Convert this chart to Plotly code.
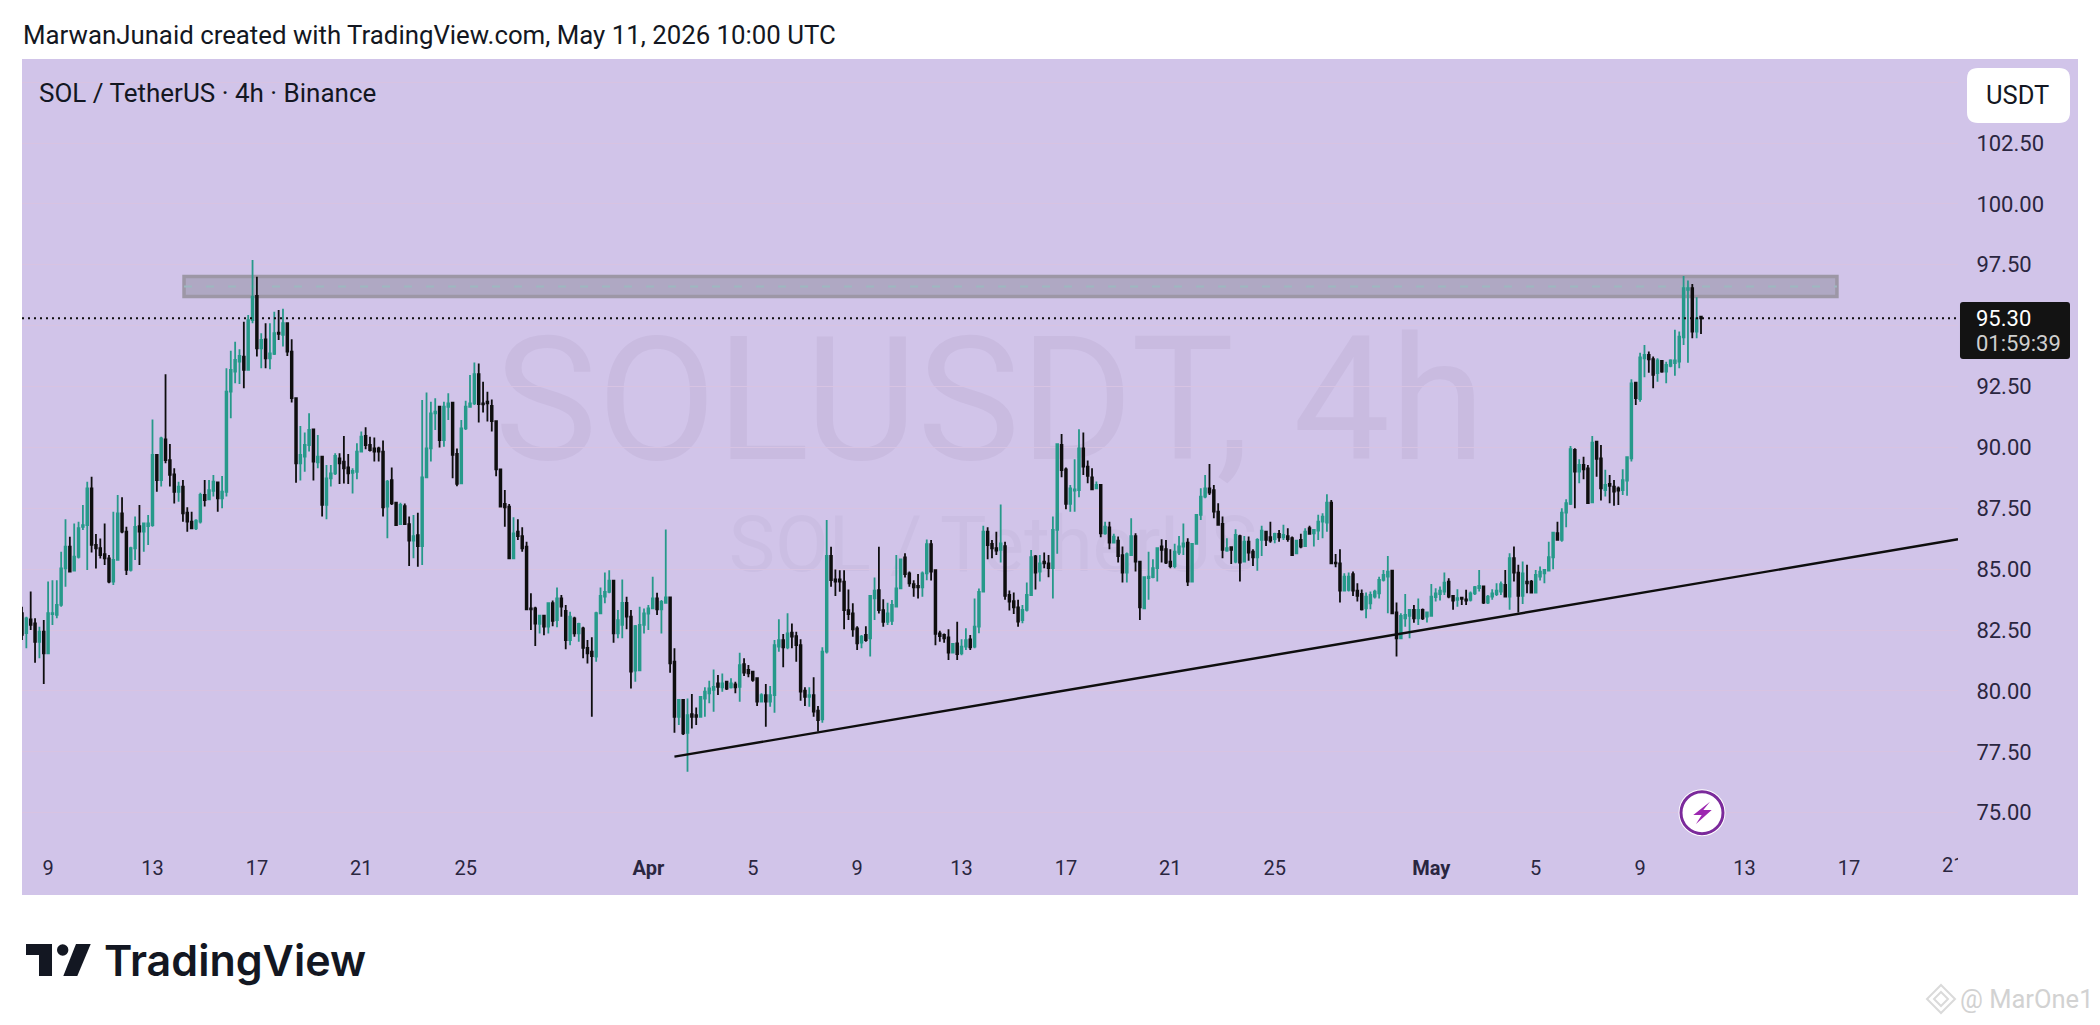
import pandas as pd
import plotly.graph_objects as go

opens = [
    83.19,82.37,82.94,82.77,82.02,82.43,81.54,83.16,83.12,83.53,
    85.03,85.92,84.94,85.51,86.74,86.81,88.32,86.00,85.86,85.62,
    85.44,84.49,85.38,87.29,86.54,84.97,85.86,86.77,86.54,86.77,
    86.81,89.69,88.66,90.33,89.48,88.89,88.18,88.39,87.32,86.95,
    86.68,86.95,88.05,87.87,88.22,88.56,87.91,88.18,92.29,93.11,
    93.52,93.73,93.18,95.23,96.22,94.07,94.44,93.66,93.84,94.71,
    94.62,95.10,93.93,92.02,89.35,89.62,90.10,90.74,89.39,89.62,
    87.64,88.73,88.93,89.55,89.42,89.18,88.96,89.00,89.83,90.47,
    90.10,89.96,89.96,89.83,87.57,88.66,87.73,86.85,87.59,86.85,
    86.17,86.40,85.95,88.77,89.96,91.40,91.67,90.30,91.67,91.84,
    89.73,88.52,90.78,91.67,91.81,93.01,91.81,91.88,91.70,91.08,
    89.10,87.68,87.57,85.44,86.54,86.36,85.92,83.39,83.39,82.75,
    83.09,82.64,83.60,82.91,83.80,83.29,82.09,82.98,82.36,82.57,
    81.77,81.61,81.41,83.19,83.87,84.07,84.53,82.36,82.71,83.62,
    83.05,80.83,80.85,82.71,83.18,83.39,83.80,83.35,83.62,83.84,
    81.20,78.94,79.63,78.28,79.05,79.01,78.94,79.69,79.90,80.04,
    80.31,80.15,80.38,80.15,80.27,80.17,81.10,80.86,80.79,80.52,
    79.56,79.83,79.56,79.83,81.82,82.09,81.79,82.39,82.25,81.88,
    80.01,79.76,79.83,79.19,78.83,81.61,85.54,84.58,84.58,84.49,
    83.32,83.18,82.57,81.98,82.30,82.16,83.80,84.14,83.32,82.84,
    82.88,83.46,84.21,85.48,84.83,84.39,84.31,84.25,84.83,86.03,
    84.96,82.36,82.30,82.20,81.57,81.95,81.54,81.82,82.12,81.82,
    82.64,84.08,86.54,86.04,85.86,85.79,85.95,83.94,83.69,83.43,
    82.91,83.33,83.94,85.52,84.90,85.31,85.24,85.04,86.61,90.10,
    89.10,87.68,88.23,88.25,89.96,89.21,88.77,88.32,88.46,86.47,
    86.72,86.09,86.17,85.58,84.86,85.58,86.36,85.31,83.39,84.63,
    84.67,85.04,85.93,85.82,85.31,85.13,85.68,85.93,86.09,84.49,
    86.04,87.23,87.98,88.32,88.25,87.36,86.86,85.76,85.90,85.31,
    86.36,85.31,86.13,85.72,85.49,86.20,86.54,86.31,86.23,86.45,
    86.31,86.36,86.27,85.65,86.20,85.95,86.68,86.47,86.58,86.95,
    86.91,87.73,85.27,85.24,84.12,84.15,84.80,84.12,83.98,83.39,
    83.60,83.87,84.01,84.56,84.69,84.94,83.22,82.16,82.98,83.08,
    83.33,82.98,83.33,83.05,83.08,83.85,83.98,84.08,84.49,83.90,
    83.74,83.83,83.76,83.74,84.01,84.22,84.29,83.63,83.87,83.98,
    84.08,84.35,83.87,85.45,84.86,83.90,84.49,84.49,84.04,84.70,
    84.83,84.94,85.49,86.48,86.20,87.32,87.68,89.90,89.01,89.28,
    89.14,87.74,90.24,89.55,88.25,88.50,88.39,88.32,88.25,88.64,
    89.55,92.66,91.98,93.66,93.80,93.62,93.05,93.55,93.11,93.35,
    93.46,93.52,94.52,96.47,96.54,94.76,95.37,
]
highs = [
    83.46,83.05,84.08,82.98,82.64,82.91,84.49,84.55,84.55,85.72,
    87.05,86.33,86.88,86.95,87.64,88.59,88.80,86.44,86.26,86.88,
    85.58,87.36,88.05,87.95,86.74,85.92,87.16,87.64,86.88,87.22,
    91.15,89.69,90.44,93.00,90.14,89.14,88.59,88.66,87.54,87.36,
    87.05,88.14,88.66,88.66,88.87,88.59,88.83,93.25,93.97,94.34,
    94.03,95.16,95.44,97.70,97.01,94.69,95.10,95.10,95.57,95.64,
    95.69,95.12,94.44,92.02,90.88,90.61,91.40,90.74,90.51,89.62,
    89.28,89.28,89.76,89.76,90.47,89.73,89.14,90.17,90.65,90.83,
    90.44,90.41,90.03,90.28,88.66,89.18,87.73,87.73,87.70,87.16,
    87.22,87.32,91.95,92.25,91.88,92.02,91.70,91.88,92.22,91.84,
    89.96,91.13,91.92,92.97,93.49,93.45,92.70,92.29,91.97,91.08,
    89.10,88.25,87.68,87.13,87.05,86.72,86.13,84.01,83.46,83.12,
    83.12,83.62,83.71,84.25,83.94,83.53,83.25,83.05,82.80,82.64,
    82.09,82.20,83.25,84.25,84.86,84.96,84.55,83.32,84.58,83.87,
    83.32,82.71,83.46,83.39,83.53,84.69,84.03,83.73,86.63,83.84,
    81.75,79.65,79.65,79.69,79.87,79.32,79.76,80.15,80.42,80.88,
    80.65,80.72,80.42,80.52,80.38,81.57,81.34,81.06,80.83,80.56,
    79.90,80.28,80.20,82.09,82.94,82.34,83.19,82.77,82.43,82.12,
    80.15,80.15,80.56,79.38,81.79,87.02,85.92,84.99,84.96,84.96,
    84.17,83.60,82.66,82.30,82.66,83.90,84.66,85.92,83.76,83.62,
    83.73,85.58,85.44,85.65,84.90,84.55,84.80,84.90,86.22,86.20,
    84.96,82.47,82.36,82.53,81.95,82.84,82.12,82.57,82.30,83.80,
    84.21,86.78,86.72,86.20,86.54,87.66,86.13,84.12,84.04,83.74,
    83.53,84.45,85.79,85.58,85.58,85.68,85.58,87.16,90.17,90.55,
    89.18,88.46,89.51,90.75,90.61,89.46,89.14,88.60,88.46,86.95,
    86.95,86.45,86.34,85.93,85.68,87.09,86.47,85.34,84.69,85.72,
    85.41,85.86,86.23,86.20,85.82,86.04,86.36,86.88,86.27,86.06,
    87.23,88.32,88.87,89.32,88.46,87.71,87.16,86.27,85.93,86.64,
    86.41,86.36,86.34,85.82,86.27,86.78,86.57,86.95,86.50,86.61,
    86.82,86.68,86.34,86.17,86.45,86.68,86.78,86.61,87.23,87.30,
    88.08,87.84,85.62,85.82,84.83,84.86,84.90,84.42,84.17,84.04,
    84.08,84.15,84.69,84.97,85.54,84.94,83.63,83.19,83.98,83.33,
    83.53,83.80,83.39,83.26,84.39,84.22,84.29,84.86,84.63,83.94,
    84.18,83.85,84.15,84.08,84.31,84.97,84.31,83.94,84.18,84.42,
    84.49,84.97,85.65,85.93,85.18,85.31,85.18,84.56,84.97,85.11,
    84.97,86.13,86.54,86.95,87.50,87.87,90.06,89.97,89.51,89.62,
    89.28,90.47,90.24,90.10,89.08,88.87,88.66,88.39,89.10,89.62,
    92.80,92.70,93.89,94.21,93.94,93.73,93.66,93.59,93.52,93.62,
    94.83,94.76,97.04,96.85,96.71,96.17,95.37,
]
lows = [
    82.09,81.75,82.50,81.16,81.34,80.28,81.54,82.71,82.98,83.46,
    84.28,84.90,84.90,85.44,86.61,84.97,85.68,85.03,85.44,85.17,
    84.42,84.35,85.38,86.47,84.76,84.90,85.38,85.17,85.72,85.99,
    86.74,88.18,88.39,89.35,88.39,87.70,87.77,86.95,86.54,86.68,
    86.61,86.88,87.57,87.84,87.98,87.36,87.50,87.98,91.20,92.63,
    92.60,92.43,93.18,95.10,93.73,93.25,93.25,93.21,93.80,94.41,
    94.14,93.75,91.84,88.55,88.64,89.00,89.83,88.64,89.14,87.16,
    87.05,88.39,88.87,88.50,88.52,88.50,88.11,88.69,89.83,89.92,
    89.83,89.42,89.42,87.16,86.27,87.64,86.81,86.81,86.81,85.13,
    85.45,85.10,85.17,88.73,89.42,90.72,90.00,90.03,91.13,88.73,
    88.41,88.50,90.72,91.67,91.74,91.02,91.43,91.06,90.65,88.82,
    87.54,86.74,85.44,85.44,86.20,85.72,83.35,82.50,81.84,82.36,
    82.29,82.36,82.66,82.61,83.05,81.71,81.88,82.23,82.02,81.34,
    81.13,78.94,81.20,83.19,83.60,84.01,81.98,82.16,82.16,82.53,
    80.10,80.38,80.85,82.36,82.50,83.39,83.12,82.36,83.60,80.75,
    78.28,78.60,78.19,76.68,78.46,78.60,78.91,78.94,79.49,79.15,
    79.83,79.97,80.04,80.10,79.90,79.56,80.61,80.56,80.38,79.38,
    79.52,78.53,79.35,79.10,81.61,80.97,81.71,81.75,81.20,79.60,
    79.38,79.35,78.94,78.33,78.69,81.54,84.28,83.90,84.07,82.53,
    82.91,82.23,81.68,81.75,82.02,81.41,82.91,83.18,82.64,82.71,
    82.71,83.46,84.21,84.66,84.28,83.87,83.80,83.87,84.55,84.53,
    81.88,82.02,81.98,81.27,81.54,81.27,81.47,81.68,81.68,81.75,
    82.37,84.08,85.41,85.45,85.58,85.27,83.74,83.30,83.16,82.64,
    82.78,83.26,83.94,84.17,84.49,85.04,84.67,83.80,85.63,88.77,
    87.46,87.36,87.36,87.95,88.87,88.53,88.25,88.28,86.31,86.41,
    85.82,86.06,85.27,84.45,84.45,85.58,84.90,82.91,83.35,83.74,
    84.63,84.49,85.27,85.21,85.04,85.04,85.58,85.58,84.31,84.45,
    86.04,87.02,87.91,88.05,87.09,86.82,85.45,85.72,85.21,85.24,
    84.49,85.27,85.35,85.13,84.94,85.54,85.95,86.09,86.06,86.13,
    86.20,86.13,85.54,85.62,85.86,85.93,86.41,85.93,86.20,86.27,
    86.54,85.24,85.08,83.63,84.08,84.08,83.90,83.67,83.30,82.98,
    83.35,83.80,83.80,84.49,83.19,83.19,81.41,82.16,82.64,82.16,
    82.80,82.71,82.91,82.81,83.05,83.67,83.71,83.94,83.81,83.33,
    83.46,83.53,83.53,83.67,83.94,84.08,83.57,83.57,83.74,83.90,
    83.94,83.87,83.33,84.49,83.22,83.57,84.01,84.01,84.01,84.53,
    84.42,84.90,85.00,86.17,86.13,86.72,87.64,87.50,88.53,88.69,
    87.68,87.74,88.80,87.82,87.98,87.71,87.60,87.64,88.05,88.02,
    89.42,91.74,91.88,92.88,93.07,92.43,92.70,93.07,92.63,93.29,
    92.94,93.25,94.21,93.48,94.48,94.48,94.66,
]
closes = [
    82.30,82.98,82.71,82.02,82.43,81.54,83.19,83.19,83.53,85.03,
    85.92,84.90,85.51,86.68,86.81,88.32,86.00,85.86,85.58,85.44,
    84.49,85.38,87.29,86.54,84.97,85.86,86.74,86.54,86.88,86.88,
    89.69,88.66,90.37,89.48,88.87,88.18,88.39,87.29,86.95,86.68,
    86.99,88.05,87.84,88.25,88.59,87.91,88.18,92.29,93.18,93.59,
    93.76,93.18,95.23,96.19,94.07,94.41,93.66,93.86,94.69,94.66,
    95.10,93.93,92.02,89.35,89.69,90.10,90.72,89.42,89.62,87.64,
    88.73,88.93,89.65,89.35,89.14,88.93,89.04,89.83,90.44,90.10,
    89.89,89.83,89.83,87.54,88.59,87.70,86.81,87.64,86.85,86.17,
    86.36,85.95,88.77,89.96,91.40,91.47,90.30,91.67,91.81,89.69,
    88.50,90.78,91.67,91.81,93.01,91.78,91.77,91.81,91.08,89.10,
    87.57,87.54,85.44,86.47,86.36,85.85,83.35,83.35,82.77,83.09,
    82.64,83.60,82.88,83.80,83.46,82.09,83.05,82.36,82.75,81.77,
    81.54,81.43,83.19,83.90,84.07,84.53,82.36,82.91,83.62,83.05,
    80.79,82.66,82.71,83.18,83.39,83.80,83.35,83.66,83.84,81.13,
    78.94,79.63,78.26,79.01,78.94,78.94,79.76,79.97,80.10,80.17,
    80.17,80.31,80.10,80.31,80.15,81.06,80.75,80.72,80.45,79.56,
    79.83,79.56,79.83,81.88,82.09,81.79,82.36,82.23,81.88,79.97,
    79.76,79.83,79.15,78.80,81.61,85.54,84.55,84.49,84.49,83.32,
    83.16,82.53,81.95,82.23,82.09,83.90,84.12,83.32,82.84,83.18,
    83.53,84.21,85.40,84.80,84.42,84.25,84.25,84.83,86.03,84.90,
    82.34,82.25,82.16,81.57,81.93,81.51,81.82,82.09,81.79,82.64,
    84.07,86.54,85.99,85.86,85.76,86.06,83.90,83.67,83.43,82.85,
    83.33,83.94,85.49,84.86,85.24,85.24,85.04,86.61,90.13,89.07,
    87.68,88.32,88.28,89.96,89.21,88.83,88.28,88.46,86.47,86.75,
    86.09,86.34,85.54,84.86,85.62,86.36,85.31,83.43,84.67,84.69,
    85.04,85.86,85.79,85.27,85.13,85.72,85.93,86.06,84.49,86.04,
    87.23,87.98,88.32,88.14,87.36,86.82,85.79,85.86,85.79,86.41,
    85.27,86.13,85.68,85.49,86.20,86.58,86.20,86.17,86.45,86.31,
    86.41,86.23,85.58,86.17,85.93,86.54,86.45,86.61,86.95,87.16,
    87.73,85.24,85.24,84.12,84.69,84.69,84.12,83.90,83.35,83.87,
    83.94,84.08,84.56,84.76,84.90,83.19,82.16,83.08,83.12,83.33,
    82.98,83.33,82.98,83.22,83.87,84.01,84.12,84.45,83.87,83.71,
    83.81,83.78,83.71,84.01,84.26,84.31,83.63,83.87,84.01,84.12,
    84.39,83.87,85.45,84.86,83.90,84.83,84.42,84.04,84.76,84.90,
    84.97,85.49,86.50,86.20,87.32,87.71,89.93,89.01,89.28,89.10,
    87.71,90.20,89.53,88.32,88.46,88.42,88.19,88.23,88.66,89.60,
    92.63,92.02,93.70,93.80,93.62,92.98,93.57,93.11,93.39,93.57,
    93.57,94.55,96.54,96.54,94.76,95.30,95.30,
]
times = pd.date_range("2026-03-08 00:00", periods=len(closes), freq="4h")

y_ticks = [75, 77.5, 80, 82.5, 85, 87.5, 90, 92.5, 95, 97.5, 100, 102.5, 105]
y_labels = ["75.00", "77.50", "80.00", "82.50", "85.00", "87.50", "90.00", "92.50",
            "", "97.50", "100.00", "102.50", ""]
x_ticks = ["2026-03-09", "2026-03-13", "2026-03-17", "2026-03-21", "2026-03-25", "2026-04-01",
           "2026-04-05", "2026-04-09", "2026-04-13", "2026-04-17", "2026-04-21", "2026-04-25",
           "2026-05-01", "2026-05-05", "2026-05-09", "2026-05-13", "2026-05-17"]
x_labels = ["9", "13", "17", "21", "25", "<b>Apr</b>", "5", "9", "13", "17", "21", "25",
            "<b>May</b>", "5", "9", "13", "17"]

trend_x = ["2026-04-02 00:00", "2026-05-21 04:20"]
trend_y = [77.30, 86.23]
zone_x = ["2026-03-14 05:00", "2026-05-16 13:00"]
zone_y = [96.20, 97.02]
zone_mid = 96.61
last_price = 95.30

LEFT, RIGHT, TOP, BOTTOM = 22, 1958, 59, 895
BG = "#D1C4E9"
TEAL = "#26998A"
BLACK = "#0E0E0E"
AXIS_TEXT = "#2A2640"


def px(x):
    return (x - LEFT) / (RIGHT - LEFT)


def py(y):
    return 1 - (y - TOP) / (BOTTOM - TOP)


def poly(points):
    return "M " + " L ".join(f"{px(x):.5f},{py(y):.5f}" for x, y in points) + " Z"


def rounded(x0, y0, x1, y1, r):
    return (f"M {px(x0 + r):.5f},{py(y0):.5f} L {px(x1 - r):.5f},{py(y0):.5f} "
            f"Q {px(x1):.5f},{py(y0):.5f} {px(x1):.5f},{py(y0 + r):.5f} "
            f"L {px(x1):.5f},{py(y1 - r):.5f} Q {px(x1):.5f},{py(y1):.5f} {px(x1 - r):.5f},{py(y1):.5f} "
            f"L {px(x0 + r):.5f},{py(y1):.5f} Q {px(x0):.5f},{py(y1):.5f} {px(x0):.5f},{py(y1 - r):.5f} "
            f"L {px(x0):.5f},{py(y0 + r):.5f} Q {px(x0):.5f},{py(y0):.5f} {px(x0 + r):.5f},{py(y0):.5f} Z")


def paper_shape(path, color, layer="above", line=None):
    return dict(type="path", xref="paper", yref="paper", path=path, fillcolor=color,
                line=line or dict(width=0), layer=layer)


def circle(cx, cy, r, fill, line):
    return dict(type="circle", xref="paper", yref="paper", x0=px(cx - r), x1=px(cx + r),
                y0=py(cy + r), y1=py(cy - r), fillcolor=fill, line=line, layer="above")


def note(x, y, text, size, color="#131722", anchor="left", **font):
    return dict(xref="paper", yref="paper", x=px(x), y=py(y), text=text, showarrow=False,
                xanchor=anchor, yanchor="middle", borderpad=0,
                font=dict(family="Roboto", size=size, color=color, **font))


def watermark(x0, y0, x1, y1, text, size, color):
    return dict(type="rect", xref="paper", yref="paper", x0=px(x0), x1=px(x1), y0=py(y1), y1=py(y0),
                line=dict(width=0), fillcolor="rgba(0,0,0,0)", layer="below",
                label=dict(text=text, textposition="middle center",
                           font=dict(family="Roboto", size=size, color=color)))


fig = go.Figure()
fig.add_trace(go.Candlestick(
    x=times, open=opens, high=highs, low=lows, close=closes,
    increasing=dict(line=dict(color=TEAL, width=1.8), fillcolor=TEAL),
    decreasing=dict(line=dict(color=BLACK, width=1.8), fillcolor=BLACK),
    whiskerwidth=0, showlegend=False, hoverinfo="skip",
))
fig.add_trace(go.Scatter(x=trend_x, y=trend_y, mode="lines", showlegend=False, hoverinfo="skip",
                         line=dict(color=BLACK, width=2.4)))
# the "21" at the right edge is cut by the pane, so it is clipped text rather than a tick
fig.add_trace(go.Scatter(x=["2026-05-21"], y=[72.77], mode="text", text=["21"], cliponaxis=True,
                         textfont=dict(family="Roboto", size=20, color=AXIS_TEXT),
                         showlegend=False, hoverinfo="skip"))

shapes = [
    dict(type="rect", xref="paper", yref="paper", x0=0, x1=px(2078), y0=0, y1=1,
         fillcolor=BG, line=dict(width=0), layer="below"),
    watermark(300, 292, 1680, 482, "SOLUSDT, 4h", 173, "#C9BBE0"),
    watermark(603, 493, 1383, 583, "SOL / TetherUS", 78, "#CBBEE3"),
    dict(type="rect", x0=zone_x[0], x1=zone_x[1], y0=zone_y[0], y1=zone_y[1],
         fillcolor="rgba(120,123,134,0.38)", line=dict(color="#9D97A6", width=3.5), layer="between"),
    dict(type="line", x0=zone_x[0], x1=zone_x[1], y0=zone_mid, y1=zone_mid,
         line=dict(color="#9DB8C0", width=2, dash="8px,14px"), layer="between"),
    dict(type="line", xref="paper", x0=0, x1=1, y0=last_price, y1=last_price,
         line=dict(color=BLACK, width=2, dash="2px,4px"), layer="above"),
    paper_shape(rounded(1960, 302, 2070, 359, 3), "#131313"),
    paper_shape(rounded(1967, 68, 2070, 123, 11), "#FFFFFF"),
    circle(1702, 812.7, 23.5, "#FFFFFF", dict(width=0)),
    circle(1702, 812.7, 21, "#FFFFFF", dict(color="#7B2A9B", width=3)),
    paper_shape(poly([(1710, 801.7), (1693.3, 815), (1701.7, 815), (1696, 824), (1711.7, 810), (1703.3, 810)]),
                "#9C27B0"),
    # TradingView mark
    paper_shape(poly([(26, 944), (52, 944), (52, 976), (39, 976), (39, 955), (26, 955)]), "#131722"),
    circle(62.7, 950, 5.7, "#131722", dict(width=0)),
    paper_shape(poly([(76, 944), (90.7, 944), (77.3, 976), (63.3, 976)]), "#131722"),
    # repost mark next to the watermark name
    paper_shape(poly([(1941, 985), (1955, 999), (1941, 1013), (1927, 999)]), "rgba(0,0,0,0)",
                line=dict(color="#DADADA", width=2)),
    paper_shape(poly([(1941, 992), (1948, 999), (1941, 1006), (1934, 999)]), "rgba(0,0,0,0)",
                line=dict(color="#DADADA", width=2)),
]

annotations = [
    note(22, 35, "MarwanJunaid created with TradingView.com, May 11, 2026 10:00 UTC", 25.8),
    note(38, 93, "SOL / TetherUS · 4h · Binance", 26),
    note(2017.5, 95, "USDT", 25.5, anchor="center"),
    note(1975, 319, "95.30", 22, color="#FFFFFF"),
    note(1975, 344, "01:59:39", 22, color="#CFCFCF"),
    note(1959, 999, "@ MarOne1", 25.5, color="#D2D2D2"),
    dict(xref="paper", yref="paper", x=px(102), y=py(960), text="TradingView", showarrow=False,
         xanchor="left", yanchor="middle",
         font=dict(family="Inter", size=43, color="#131722", weight=600)),
]

fig.update_layout(
    width=2100, height=1025,
    margin=dict(l=LEFT, r=2100 - RIGHT, t=TOP, b=1025 - BOTTOM, pad=0),
    paper_bgcolor="#FFFFFF", plot_bgcolor="rgba(0,0,0,0)",
    boxgap=0.45, showlegend=False, hovermode=False,
    shapes=shapes, annotations=annotations,
    font=dict(family="Roboto", size=20, color=AXIS_TEXT),
    xaxis=dict(
        type="date", range=["2026-03-08 00:00", "2026-05-21 04:20"], rangeslider=dict(visible=False),
        tickmode="array", tickvals=x_ticks, ticktext=x_labels, showgrid=False, zeroline=False,
        showline=False, ticks="inside", ticklen=17, tickcolor="rgba(0,0,0,0)",
        ticklabelposition="inside", tickfont=dict(family="Roboto", size=20, color=AXIS_TEXT),
    ),
    yaxis=dict(
        side="right", range=[71.62, 105.95], tickmode="array", tickvals=y_ticks, ticktext=y_labels,
        showgrid=True, gridcolor="#D8C3E2", gridwidth=1.3, zeroline=False, showline=False,
        ticks="outside", ticklen=13, tickcolor="rgba(0,0,0,0)",
        tickfont=dict(family="Roboto", size=22, color=AXIS_TEXT),
    ),
)

fig.write_html("out.html", config={"displayModeBar": False}, post_script="document.body.style.margin='0';")
